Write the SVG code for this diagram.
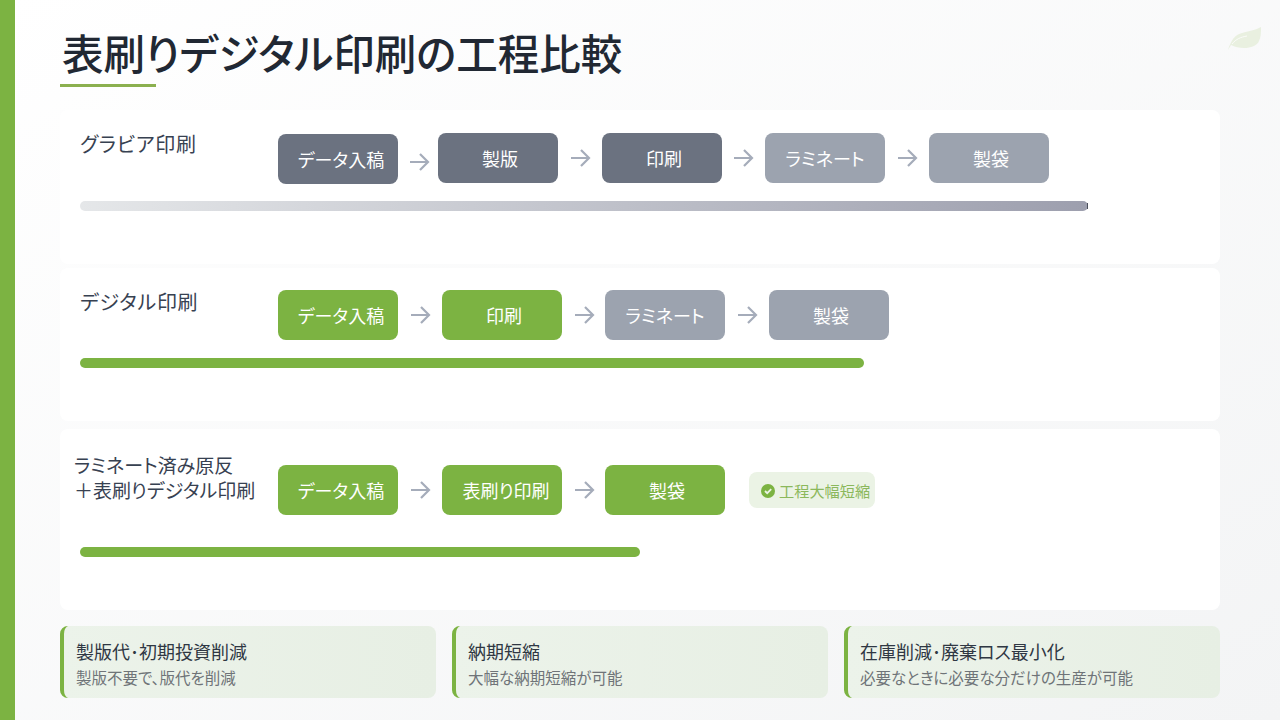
<svg xmlns="http://www.w3.org/2000/svg" width="1280" height="720" viewBox="0 0 1280 720">
<style>
text{font-family:"Noto Sans CJK JP","Noto Sans",sans-serif;font-feature-settings:"palt"}
.t{font-size:41.5px;font-weight:500;fill:#212833}
.l{font-size:19px;fill:#374151}
.l2{font-size:20px;letter-spacing:.7px;fill:#374151}
.n{font-size:18px;fill:#fff;text-anchor:middle}
.ar{fill:none;stroke:#a5acba;stroke-width:2.2}
.card{fill:#fff}
.info{fill:url(#inf)}
.edge{fill:#7cb342}
.h{font-size:18px;fill:#2f3743}
.s{font-size:15.5px;fill:#6f7478}
</style>
<defs>
<linearGradient id="bg" x1="0" y1="0" x2="1" y2="1"><stop offset="0" stop-color="#ffffff"/><stop offset="1" stop-color="#f3f4f5"/></linearGradient>
<linearGradient id="bar" x1="0" y1="0" x2="1" y2="0"><stop offset="0" stop-color="#e5e7e9"/><stop offset="1" stop-color="#9d9fae"/></linearGradient>
<linearGradient id="inf" x1="0" y1="0" x2="1" y2="0"><stop offset="0" stop-color="#ecf3ea"/><stop offset="1" stop-color="#e7efe4"/></linearGradient>
<path id="arrow" d="M-9 0H8M1-8L9 0L1 8" class="ar"/>
</defs>
<rect width="1280" height="720" fill="url(#bg)"/>
<rect width="15" height="720" fill="#7cb342"/>
<g id="title"><text x="62" y="70" class="t">表刷りデジタル印刷の工程比較</text><rect x="60" y="84" width="96" height="3" fill="#8bb04f"/></g>
<g id="leaf"><path d="M1261 27C1250 33 1238 31 1233 39C1231 42 1229 46 1228 50L1231 45C1240 50 1256 49 1259 41C1261 37 1261 32 1261 27Z" fill="#e9f0e0"/><path d="M1232 44C1236 39 1241 37 1247 36" fill="none" stroke="#fbfcf9" stroke-width="1"/></g>
<g id="panels"><rect class="card" x="60" y="110" width="1160" height="154" rx="8"/><rect class="card" x="60" y="268" width="1160" height="153" rx="8"/><rect class="card" x="60" y="429" width="1160" height="181" rx="8"/></g>
<g id="labels"><text class="l2" x="80" y="152">グラビア印刷</text><text class="l2" x="80" y="310">デジタル印刷</text><text class="l" x="74" y="473">ラミネート済み原反</text><text class="l" x="74" y="498">＋表刷りデジタル印刷</text></g>
<g id="connectors"><use href="#arrow" x="419" y="162"/><use href="#arrow" x="580" y="158"/><use href="#arrow" x="743" y="158"/><use href="#arrow" x="907" y="158"/><use href="#arrow" x="420" y="315"/><use href="#arrow" x="584" y="315"/><use href="#arrow" x="747" y="315"/><use href="#arrow" x="420" y="490"/><use href="#arrow" x="584" y="490"/></g>
<g id="g1"><rect x="278" y="134" width="120" height="50" rx="8" fill="#6b7280"/><text class="n" x="341" y="167">データ入稿</text></g>
<g id="g2"><rect x="438" y="133" width="120" height="50" rx="8" fill="#6b7280"/><text class="n" x="500" y="166">製版</text></g>
<g id="g3"><rect x="602" y="133" width="120" height="50" rx="8" fill="#6b7280"/><text class="n" x="664" y="166">印刷</text></g>
<g id="g4"><rect x="765" y="133" width="120" height="50" rx="8" fill="#9ca3af"/><text class="n" x="825" y="166">ラミネート</text></g>
<g id="g5"><rect x="929" y="133" width="120" height="50" rx="8" fill="#9ca3af"/><text class="n" x="991" y="166">製袋</text></g>
<rect x="80" y="201" width="1008" height="10" rx="5" fill="url(#bar)"/><rect x="1087" y="203" width="1" height="6" fill="#4b4f5c"/>
<g id="d1"><rect x="278" y="290" width="120" height="50" rx="8" fill="#7cb342"/><text class="n" x="341" y="323">データ入稿</text></g>
<g id="d2"><rect x="442" y="290" width="120" height="50" rx="8" fill="#7cb342"/><text class="n" x="504" y="323">印刷</text></g>
<g id="d3"><rect x="605" y="290" width="120" height="50" rx="8" fill="#9ca3af"/><text class="n" x="665" y="323">ラミネート</text></g>
<g id="d4"><rect x="769" y="290" width="120" height="50" rx="8" fill="#9ca3af"/><text class="n" x="831" y="323">製袋</text></g>
<rect x="80" y="358" width="784" height="10" rx="5" fill="#7cb342"/>
<g id="h1"><rect x="278" y="465" width="120" height="50" rx="8" fill="#7cb342"/><text class="n" x="341" y="498">データ入稿</text></g>
<g id="h2"><rect x="442" y="465" width="120" height="50" rx="8" fill="#7cb342"/><text class="n" x="506" y="498">表刷り印刷</text></g>
<g id="h3"><rect x="605" y="465" width="120" height="50" rx="8" fill="#7cb342"/><text class="n" x="667" y="498">製袋</text></g>
<g id="badge"><rect x="749" y="472" width="126" height="36" rx="8" fill="#ebf3e5"/><circle cx="768" cy="491" r="7" fill="#7cb342"/><path d="M765 491l2.2 2.2 4-4" fill="none" stroke="#ebf3e5" stroke-width="1.8"/><text x="779" y="497" font-size="15.2" fill="#8bb85c">工程大幅短縮</text></g>
<rect x="80" y="547" width="560" height="10" rx="5" fill="#7cb342"/>
<g id="i1"><rect class="info" x="60" y="626" width="376" height="72" rx="8"/><path class="edge" d="M68 626A8 8 0 0 0 60 634V690A8 8 0 0 0 68 698Q64 696 64 690V634Q64 628 68 626Z"/><text class="h" x="76" y="659">製版代･初期投資削減</text><text class="s" x="76" y="684">製版不要で、版代を削減</text></g>
<g id="i2"><rect class="info" x="452" y="626" width="376" height="72" rx="8"/><path class="edge" d="M460 626A8 8 0 0 0 452 634V690A8 8 0 0 0 460 698Q456 696 456 690V634Q456 628 460 626Z"/><text class="h" x="468" y="659">納期短縮</text><text class="s" x="468" y="684">大幅な納期短縮が可能</text></g>
<g id="i3"><rect class="info" x="844" y="626" width="376" height="72" rx="8"/><path class="edge" d="M852 626A8 8 0 0 0 844 634V690A8 8 0 0 0 852 698Q848 696 848 690V634Q848 628 852 626Z"/><text class="h" x="860" y="659">在庫削減･廃棄ロス最小化</text><text class="s" x="860" y="684">必要なときに必要な分だけの生産が可能</text></g>
</svg>
